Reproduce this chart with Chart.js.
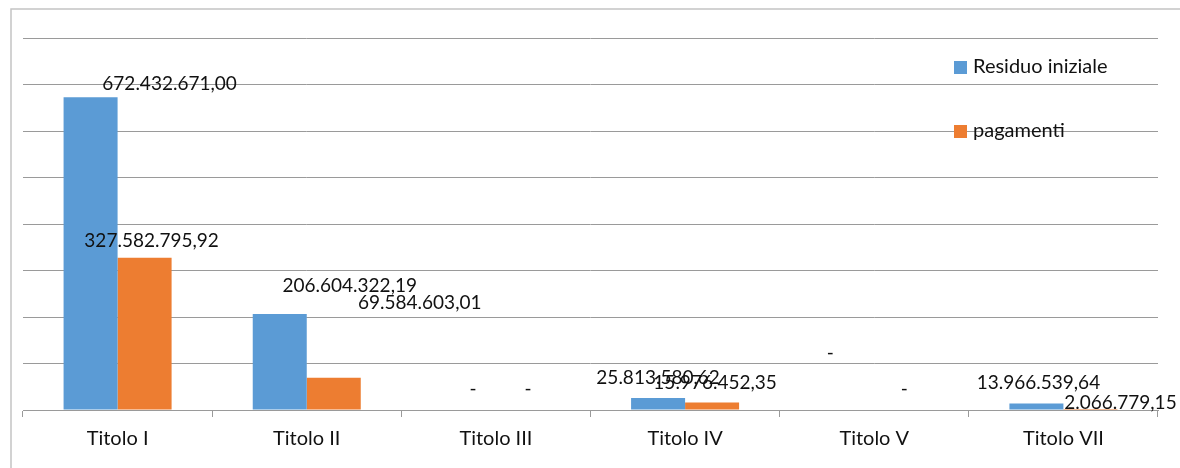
<!DOCTYPE html>
<html>
<head>
<meta charset="utf-8">
<script src="https://cdn.jsdelivr.net/npm/chart.js@4.4.1/dist/chart.umd.min.js"></script>
<style>
  body { margin: 0; background: #fff; }
  #wrap { width: 1180px; height: 468px; }
</style>
</head>
<body>
<div id="wrap"><canvas id="grafico"></canvas></div>
<script>
// dati
const categorie = ['Titolo I', 'Titolo II', 'Titolo III', 'Titolo IV', 'Titolo V', 'Titolo VII'];
const residuoIniziale = [672432671.00, 206604322.19, 0, 25813580.62, 0, 13966539.64];
const pagamenti = [327582795.92, 69584603.01, 0, 15976452.35, 0, 2066779.15];
const nomiSerie = ['Residuo iniziale', 'pagamenti'];
const coloriSerie = ['#5B9BD5', '#ED7D31'];
const assePassi = 100000000;
const asseMax = 800000000;

// spostamento delle etichette rispetto alla cima della barra [dx, dy]
const spostaResiduo = [[79, -13], [70, -28], [4, -21], [0, -20], [-17, -57], [2, -21]];
const spostaPagamenti = [[7, -17], [86, -75], [5, -21], [3, -20], [3, -21], [30, -6]];
const spostamenti = [spostaResiduo, spostaPagamenti];

const FONT = 'Lato';
const fmt = new Intl.NumberFormat('it-IT', { minimumFractionDigits: 2, maximumFractionDigits: 2 });

const cornice = {
  id: 'cornice',
  beforeDraw(chart) {
    const ctx = chart.ctx;
    ctx.save();
    ctx.strokeStyle = '#c4c4c4';
    ctx.lineWidth = 1.5;
    ctx.strokeRect(11, 9, chart.width, chart.height + 20);
    ctx.restore();
  }
};

const etichette = {
  id: 'etichette',
  afterDatasetsDraw(chart) {
    const ctx = chart.ctx;
    ctx.save();
    ctx.font = '19px ' + FONT;
    ctx.fillStyle = '#111';
    ctx.textAlign = 'center';
    ctx.textBaseline = 'middle';
    chart.data.datasets.forEach((ds, i) => {
      chart.getDatasetMeta(i).data.forEach((bar, j) => {
        const v = ds.data[j];
        const testo = v === 0 ? '-' : fmt.format(v);
        const [dx, dy] = spostamenti[i][j];
        ctx.fillText(testo, bar.x + dx, bar.y + dy);
      });
    });
    ctx.restore();
  }
};

const legenda = {
  id: 'legenda',
  afterDraw(chart) {
    const ctx = chart.ctx;
    const area = chart.chartArea;
    const x0 = area.right - 204;
    ctx.save();
    ctx.font = '20px ' + FONT;
    ctx.textBaseline = 'middle';
    ctx.textAlign = 'left';
    chart.data.datasets.forEach((ds, i) => {
      const yc = area.top + 29 + i * 64;
      ctx.fillStyle = ds.backgroundColor;
      ctx.fillRect(x0, yc - 6, 13, 13);
      ctx.fillStyle = '#111';
      ctx.fillText(ds.label, x0 + 19, yc);
    });
    ctx.restore();
  }
};

new Chart(document.getElementById('grafico'), {
  type: 'bar',
  data: {
    labels: categorie,
    datasets: [
      { label: nomiSerie[0], data: residuoIniziale, backgroundColor: coloriSerie[0] },
      { label: nomiSerie[1], data: pagamenti, backgroundColor: coloriSerie[1] }
    ]
  },
  options: {
    responsive: true,
    maintainAspectRatio: false,
    animation: false,
    layout: { padding: { left: 23, right: 22, top: 38, bottom: 0 } },
    datasets: { bar: { categoryPercentage: 0.571, barPercentage: 1.0 } },
    plugins: { legend: { display: false }, tooltip: { enabled: false } },
    scales: {
      x: {
        grid: { display: true, drawOnChartArea: false, drawTicks: true, tickLength: 7, color: '#9a9a9a', offset: true },
        border: { display: true, color: '#9a9a9a' },
        ticks: { color: '#111', font: { family: FONT, size: 20 }, padding: 10 },
        afterFit(s) { s.height = 58; }
      },
      y: {
        min: 0,
        max: asseMax,
        ticks: { display: false, stepSize: assePassi },
        grid: { color: '#9a9a9a', drawTicks: false },
        border: { display: false },
        afterFit(s) { s.width = 0; }
      }
    }
  },
  plugins: [cornice, etichette, legenda]
});
</script>
</body>
</html>
